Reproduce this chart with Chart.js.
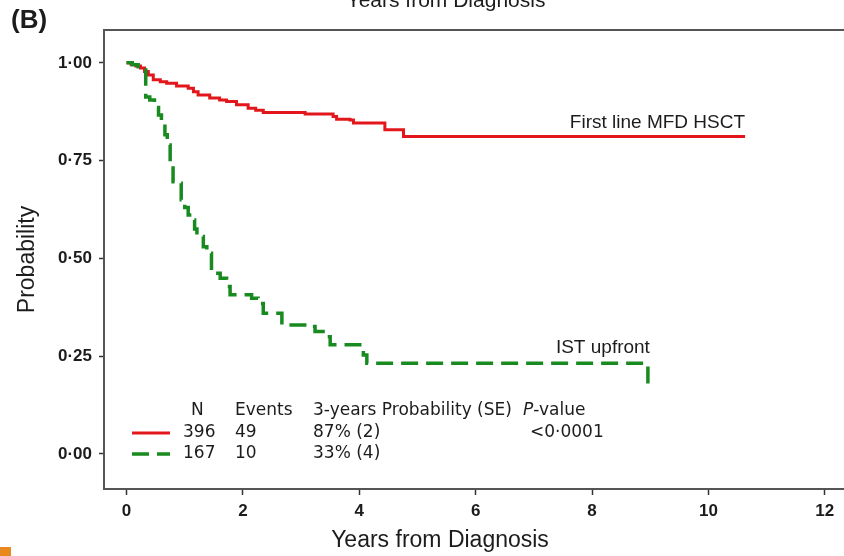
<!DOCTYPE html>
<html>
<head>
<meta charset="utf-8">
<script src="https://cdn.jsdelivr.net/npm/chart.js@4.4.1/dist/chart.umd.min.js"></script>
<style>
  html, body { margin: 0; padding: 0; background: #fff; }
  #wrap { width: 844px; height: 556px; }
</style>
</head>
<body>
<div id="wrap"><canvas id="kmChart" width="844" height="556"></canvas></div>
<script>
// Kaplan-Meier estimates, time in years from diagnosis
const hsctTimes = [0, 0.08, 0.16, 0.24, 0.31, 0.375, 0.46, 0.58, 0.69, 0.86, 1.06, 1.15, 1.23, 1.43, 1.6, 1.72, 1.89, 2.09, 2.22, 2.35, 3.07, 3.55, 3.61, 3.84, 3.9, 4.44, 4.76, 10.63];
const hsctSurv  = [1.0, 0.996, 0.992, 0.987, 0.978, 0.969, 0.957, 0.952, 0.948, 0.941, 0.935, 0.926, 0.918, 0.910, 0.905, 0.901, 0.893, 0.884, 0.879, 0.873, 0.869, 0.863, 0.856, 0.854, 0.846, 0.829, 0.812, 0.812];

const istTimes = [0, 0.1, 0.2, 0.29, 0.33, 0.4, 0.48, 0.55, 0.6, 0.66, 0.7, 0.75, 0.8, 0.89, 0.94, 1.0, 1.06, 1.12, 1.17, 1.21, 1.32, 1.38, 1.46, 1.61, 1.72, 1.78, 2.15, 2.26, 2.35, 2.67, 3.15, 3.24, 3.44, 3.5, 4.07, 4.13, 8.96];
const istSurv  = [1.0, 0.995, 0.99, 0.982, 0.913, 0.905, 0.886, 0.867, 0.850, 0.816, 0.790, 0.744, 0.696, 0.692, 0.650, 0.630, 0.611, 0.598, 0.575, 0.556, 0.530, 0.513, 0.462, 0.449, 0.428, 0.407, 0.398, 0.385, 0.360, 0.330, 0.326, 0.313, 0.300, 0.279, 0.253, 0.232, 0.169];

const xTicks = [0, 2, 4, 6, 8, 10, 12];
const yTicks = [0, 0.25, 0.5, 0.75, 1];

const curveNames = ['First line MFD HSCT', 'IST upfront'];
const tableHeader = ['N', 'Events', '3-years Probability (SE)', 'P-value'];
const tableRows = [
  ['396', '49', '87% (2)', '<0·0001'],
  ['167', '10', '33% (4)', '']
];

const RED = '#e3161b';
const GREEN = '#198a1f';
const DASH = [17, 8];
const INK = '#1c1c1c';
const SANS = '"Liberation Sans", Arial, sans-serif';
const TABLE_FONT = '17px "DejaVu Sans", Verdana, sans-serif';

function toPoints(ts, ss) {
  return ts.map((t, i) => ({ x: t, y: ss[i] }));
}

// frame top, curve names, the N/events table and loose titles
const overlay = {
  id: 'overlay',
  afterDraw(chart) {
    const { ctx, chartArea: a, scales: { x, y } } = chart;
    ctx.save();

    ctx.strokeStyle = '#555';
    ctx.lineWidth = 2;
    ctx.beginPath();
    ctx.moveTo(a.left - 1, a.top);
    ctx.lineTo(a.right, a.top);
    ctx.stroke();

    ctx.fillStyle = INK;
    ctx.font = '19px ' + SANS;
    ctx.textAlign = 'right';
    ctx.textBaseline = 'alphabetic';
    ctx.fillText(curveNames[0], x.getPixelForValue(hsctTimes[hsctTimes.length - 1]),
      y.getPixelForValue(hsctSurv[hsctSurv.length - 1]) - 8);
    ctx.fillText(curveNames[1], x.getPixelForValue(istTimes[istTimes.length - 1]) + 2,
      y.getPixelForValue(istSurv[istSurv.length - 2]) - 10);

    // table under the curves
    const rowY = [411, 433, 454];
    const colX = [191, 235, 313, 523];
    const valX = [183, 235, 313, 530];
    ctx.textAlign = 'left';
    ctx.textBaseline = 'middle';
    ctx.font = TABLE_FONT;
    for (let c = 0; c < 3; c++) ctx.fillText(tableHeader[c], colX[c], rowY[0]);
    ctx.font = 'italic ' + TABLE_FONT;
    ctx.fillText('P', colX[3], rowY[0]);
    const pw = ctx.measureText('P').width;
    ctx.font = TABLE_FONT;
    ctx.fillText(tableHeader[3].slice(1), colX[3] + pw, rowY[0]);

    tableRows.forEach((row, r) => {
      row.forEach((txt, c) => { if (txt) ctx.fillText(txt, valX[c], rowY[r + 1]); });
    });

    ctx.lineWidth = 3;
    ctx.strokeStyle = RED;
    ctx.beginPath();
    ctx.moveTo(132, rowY[1]);
    ctx.lineTo(170, rowY[1]);
    ctx.stroke();
    ctx.lineWidth = 3.5;
    ctx.strokeStyle = GREEN;
    ctx.setLineDash(DASH);
    ctx.beginPath();
    ctx.moveTo(132, rowY[2]);
    ctx.lineTo(170, rowY[2]);
    ctx.stroke();
    ctx.setLineDash([]);

    // axis title under the ticks, plus the clipped one from the panel above
    ctx.fillStyle = INK;
    ctx.textAlign = 'center';
    ctx.font = '23px ' + SANS;
    ctx.fillText('Years from Diagnosis', 440, 541);
    ctx.textBaseline = 'alphabetic';
    ctx.font = '21px ' + SANS;
    ctx.fillText('Years from Diagnosis', 446, 7);

    ctx.textAlign = 'left';
    ctx.textBaseline = 'middle';
    ctx.font = 'bold 26px ' + SANS;
    ctx.fillText('(B)', 11, 21);

    ctx.fillStyle = '#e8891e';
    ctx.fillRect(0, 547, 11, 9);
    ctx.restore();
  }
};

const tickFont = { family: SANS, size: 17, weight: 'bold' };

new Chart(document.getElementById('kmChart'), {
  type: 'line',
  data: {
    datasets: [
      {
        label: curveNames[0],
        data: toPoints(hsctTimes, hsctSurv),
        borderColor: RED,
        borderWidth: 3,
        stepped: 'before',
        pointRadius: 0,
        order: 1
      },
      {
        label: curveNames[1],
        data: toPoints(istTimes, istSurv),
        borderColor: GREEN,
        borderWidth: 3.5,
        borderDash: DASH,
        stepped: 'before',
        pointRadius: 0,
        order: 0
      }
    ]
  },
  options: {
    responsive: false,
    animation: false,
    layout: { padding: { top: 30, right: 0, left: 0, bottom: 0 } },
    plugins: {
      legend: { display: false },
      tooltip: { enabled: false }
    },
    scales: {
      x: {
        type: 'linear',
        min: -0.387,
        max: 12.33,
        afterBuildTicks: s => { s.ticks = xTicks.map(v => ({ value: v })); },
        afterFit: s => { s.height = 67; },
        ticks: { font: tickFont, color: INK, padding: 6, maxRotation: 0 },
        grid: { drawOnChartArea: false, tickLength: 6, tickColor: '#333', tickWidth: 1.5 },
        border: { color: '#555', width: 2 }
      },
      y: {
        min: -0.0895,
        max: 1.084,
        afterBuildTicks: s => { s.ticks = yTicks.map(v => ({ value: v })); },
        afterFit: s => { s.width = 104; },
        ticks: {
          font: tickFont,
          color: INK,
          padding: 7,
          callback: v => v.toFixed(2).replace('.', '·')
        },
        grid: { drawOnChartArea: false, tickLength: 5, tickColor: '#333', tickWidth: 1.5 },
        border: { color: '#555', width: 2 },
        title: {
          display: true,
          text: 'Probability',
          color: INK,
          font: { family: SANS, size: 23 },
          padding: { top: 14 }
        }
      }
    }
  },
  plugins: [overlay]
});
</script>
</body>
</html>
